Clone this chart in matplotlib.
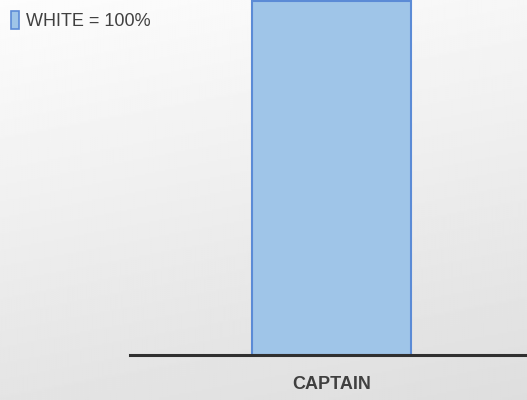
import numpy as np
import matplotlib
matplotlib.use("Agg")
import matplotlib.pyplot as plt
from matplotlib.patches import Patch

categories = ["CAPTAIN"]
white_pct = [100]
legend_label = "WHITE = 100%"

plt.rcParams['font.family'] = ['Liberation Sans', 'DejaVu Sans']

fig = plt.figure(figsize=(5.27, 4.0), dpi=100)

# soft gradient background (white top-left -> light gray bottom)
bg = fig.add_axes([0, 0, 1, 1], zorder=-10)
yy, xx = np.mgrid[0:1:200j, 0:1:260j]
shade = 0.99 - 0.12 * (0.8 * yy + 0.2 * xx)
bg.imshow(shade, cmap="gray", vmin=0, vmax=1, aspect="auto", extent=[0, 1, 1, 0])
bg.axis("off")

ax = fig.add_axes([130 / 527, 45 / 400, 397 / 527, 355 / 400])
ax.patch.set_alpha(0)
ax.bar(categories, white_pct, width=0.4, color="#9fc5e8", edgecolor="#5b8bd6",
       linewidth=1.5)
ax.set_xlim(-0.507, 0.493)
ax.set_ylim(0, 100.4)

for s in ["top", "right", "left"]:
    ax.spines[s].set_visible(False)
ax.spines["bottom"].set_linewidth(2.2)
ax.spines["bottom"].set_color("#303030")
ax.set_yticks([])
ax.tick_params(axis="x", length=0, pad=15, labelsize=13, labelcolor="#404040")
for t in ax.get_xticklabels():
    t.set_fontweight("bold")

handle = Patch(facecolor="#9fc5e8", edgecolor="#5b8bd6", linewidth=1.2)
fig.legend([handle], [legend_label], loc="upper left", bbox_to_anchor=(0.0, 1.0),
           frameon=False, fontsize=13, labelcolor="#404040", handlelength=0.45,
           handleheight=1.2, handletextpad=0.4, borderaxespad=0.1,
           borderpad=0.5)

fig.savefig("out.png", dpi=100)
